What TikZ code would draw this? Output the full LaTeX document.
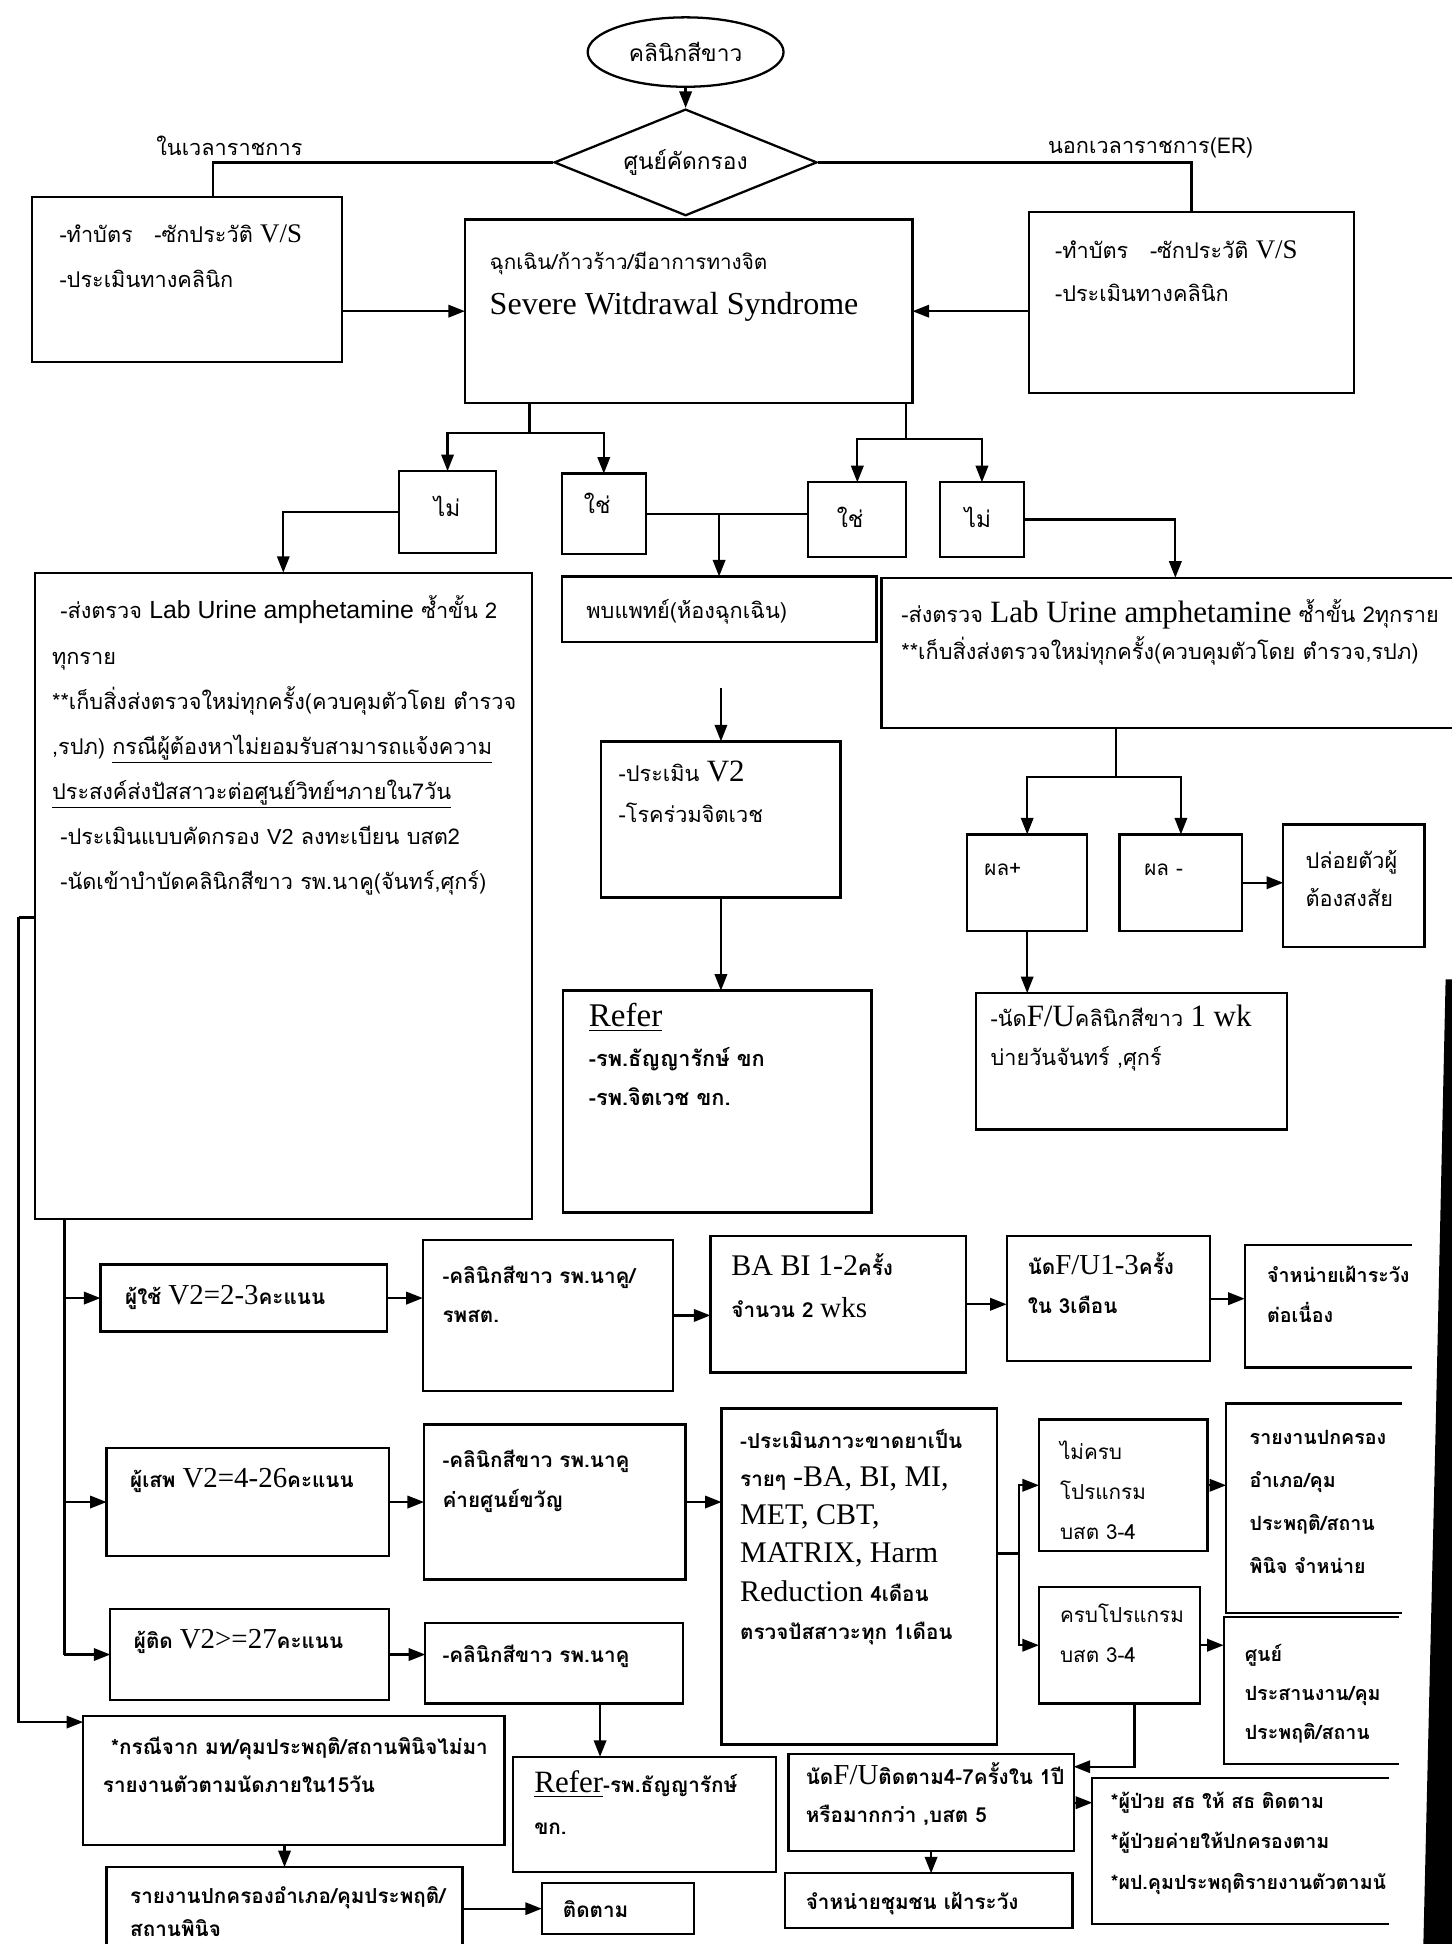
\documentclass[tikz,border=0pt]{standalone}
\usepackage{fontspec}
\setmainfont[Script=Thai]{Loma}
\newfontfamily\tnr{Liberation Serif}
\newfontfamily\ars{Liberation Sans}
\usetikzlibrary{shapes.geometric,arrows.meta}
\newcommand\fsz[2]{\fontsize{#1}{#2}\selectfont}
\newcommand\lat[2]{{\tnr\fontsize{#1}{#1}\selectfont #2}}
% #1 opts, #2 name, #3 x1, #4 y1, #5 x2, #6 y2, #7 left pad, #8 first line centre offset, #9 text
\newcommand\bxn[9][]{%
  \node[bxs,#1] (#2) at (#3,#4) {\parbox[c][\dimexpr 0.6pt*\numexpr #6-#4\relax\relax][t]{\dimexpr 0.6pt*\numexpr #5-#3\relax\relax}{%
  \vspace*{\dimexpr 0.6pt*#8-0.7\baselineskip+0.3em\relax}%
  \hspace*{\dimexpr 0.6pt*#7\relax}\begin{tabular}[t]{@{}l@{}}#9\end{tabular}}};}
\newcommand\opensides[1]{\draw (#1.north east) -- (#1.north west) -- (#1.south west) -- (#1.south east);}
\begin{document}
\begin{tikzpicture}[x=0.6pt,y=-0.6pt,line width=1.1pt,
  bxs/.style={draw,inner sep=0pt,outer sep=0pt,anchor=north west,font=\fsz{10.5}{20}},
  arr/.style={-{Triangle[length=8pt,width=6pt]}},
  lbl/.style={font=\fsz{10.5}{12},inner sep=1pt}]
\useasboundingbox (0,0) rectangle (1171,1568);
\clip (0,0) rectangle (1171,1568);

% ---------- top ----------
\node[ellipse,draw,minimum width=94.8pt,minimum height=33.6pt,inner sep=0pt,font=\fsz{11}{13}] (e1) at (553,42) {คลินิกสีขาว};
\node[diamond,draw,aspect=2.4,minimum width=127.2pt,minimum height=51.6pt,inner sep=0pt,font=\fsz{11}{13}] (d1) at (553,131) {ศูนย์คัดกรอง};
\draw[arr] (e1.south) -- (d1.north);

\bxn[font=\fsz{10.5}{22}]{lb}{26}{159}{276}{292}{22}{31}{-ทำบัตร\quad -ซักประวัติ \lat{13}{V/S}\\-ประเมินทางคลินิก}
\bxn[font=\fsz{10}{22}]{cb}{375}{177}{736}{325}{20}{35}{ฉุกเฉิน/ก้าวร้าว/มีอาการทางจิต\\\lat{15.5}{Severe Witdrawal Syndrome}}
\bxn[font=\fsz{10.5}{21}]{rb}{830}{171}{1092}{317}{21}{32}{-ทำบัตร\quad -ซักประวัติ \lat{13}{V/S}\\-ประเมินทางคลินิก}

\coordinate (cl) at (172,131);
\draw (d1.west) -- (cl) -- (cl |- lb.north);
\draw (d1.east) -| (rb.north);
\node[lbl] (ll) at (185,118) {ในเวลาราชการ};
\node[lbl] (rl) at (928,119) {นอกเวลาราชการ(ER)};

\draw[arr] (lb.east |- cb.west) -- (cb.west);
\draw[arr] (rb.west |- cb.east) -- (cb.east);

% yes / no
\bxn[font=\fsz{11}{20}]{no1}{322}{380}{400}{446}{28}{31}{ไม่}
\bxn[font=\fsz{11}{20}]{yes1}{453}{382}{521}{447}{18}{27}{ใช่}
\bxn[font=\fsz{11}{20}]{yes2}{652}{389}{731}{449}{23}{31}{ใช่}
\bxn[font=\fsz{11}{20}]{no2}{758}{389}{826}{449}{20}{31}{ไม่}

\coordinate (sl) at (427,349);
\draw (cb.south -| sl) -- (sl);
\draw[arr] (sl) -| (no1.north);
\draw[arr] (sl) -| (yes1.north);
\coordinate (sr) at (731,354);
\draw (cb.south -| sr) -- (sr);
\draw[arr] (sr) -| (yes2.north);
\draw[arr] (sr) -| (no2.north);

% ---------- middle ----------
\bxn[font=\fsz{10.5}{21.8}]{bl}{28}{462}{429}{983}{14}{32}{%
\hspace{4pt}-ส่งตรวจ {\ars\fontsize{12}{12}\selectfont Lab Urine amphetamine} ซ้ำขั้น 2\\
ทุกราย\\{}%
**เก็บสิ่งส่งตรวจใหม่ทุกครั้ง(ควบคุมตัวโดย ตำรวจ\\
,รปภ) \underline{กรณีผู้ต้องหาไม่ยอมรับสามารถแจ้งความ}\\
\underline{ประสงค์ส่งปัสสาวะต่อศูนย์วิทย์ฯภายใน7วัน}\\
\hspace{4pt}-ประเมินแบบคัดกรอง {\ars V2} ลงทะเบียน บสต2\\
\hspace{4pt}-นัดเข้าบำบัดคลินิกสีขาว รพ.นาคู(จันทร์,ศุกร์)}

\bxn{pb}{453}{465}{707}{518}{20}{29}{พบแพทย์(ห้องฉุกเฉิน)}
\draw[arr] (no1.west) -| (bl.north);
\draw (yes1.east) -- (yes1.east -| yes2.west);
\draw[arr] (yes1.east -| pb.north) -- (pb.north);

\bxn[draw=none,font=\fsz{10.5}{18}]{lr}{711}{466}{1185}{587}{16}{31}{%
-ส่งตรวจ \lat{15}{Lab Urine amphetamine} ซ้ำขั้น 2ทุกราย\\{}%
**เก็บสิ่งส่งตรวจใหม่ทุกครั้ง(ควบคุมตัวโดย ตำรวจ,รปภ)}
\opensides{lr}
\draw[arr] (no2.east) -| (lr.north);

\bxn{v2}{485}{598}{678}{724}{14}{27}{-ประเมิน \lat{15}{V2}\\-โรคร่วมจิตเวช}
\draw[arr,shorten <=22pt] (pb.south -| v2.north) -- (v2.north);
\bxn[font=\fsz{10.5}{19}\bfseries]{rf}{454}{799}{703}{978}{21}{24}{\lat{16}{\mdseries\underline{Refer}}\\-รพ.ธัญญารักษ์ ขก\\-รพ.จิตเวช ขก.}
\draw[arr] (v2.south) -- (v2.south |- rf.north);

\bxn[font=\fsz{10}{20}]{pp}{780}{673}{877}{751}{14}{28}{ผล+}
\bxn[font=\fsz{10}{20}]{pm}{903}{673}{1002}{751}{20}{28}{ผล -}
\bxn[font=\fsz{10.5}{18.6}]{pr}{1035}{665}{1149}{764}{18}{30}{ปล่อยตัวผู้\\ต้องสงสัย}
\coordinate (sb) at (900,627);
\draw (lr.south -| sb) -- (sb);
\draw[arr] (sb) -| (pp.north);
\draw[arr] (sb) -| (pm.north);
\draw[arr] (pm.east) -- (pm.east -| pr.west);
\bxn[font=\fsz{10.5}{18.6}]{fu1}{787}{801}{1038}{911}{12}{22}{-นัด\lat{15}{F/U}คลินิกสีขาว \lat{15}{1 wk}\\บ่ายวันจันทร์ ,ศุกร์}
\draw[arr] (pp.south) -- (pp.south |- fu1.north);

% ---------- rows ----------
\bxn[font=\fsz{10}{20}\bfseries]{u1}{81}{1020}{312}{1074}{20}{27}{ผู้ใช้ \lat{14}{\mdseries V2=2-3}คะแนน}
\bxn[font=\fsz{10}{19}\bfseries]{c1}{341}{1000}{543}{1122}{16}{30}{-คลินิกสีขาว รพ.นาคู/\\รพสต.}
\bxn[font=\fsz{10}{20}\bfseries]{ba}{573}{997}{779}{1107}{17}{27}{\lat{14.5}{\mdseries BA BI 1-2}ครั้ง\\จำนวน 2 \lat{14}{\mdseries wks}}
\bxn[font=\fsz{10}{19}\bfseries]{nf}{812}{997}{976}{1098}{17}{26}{นัด\lat{14}{\mdseries F/U1-3}ครั้ง\\ใน 3เดือน}
\bxn[draw=none,font=\fsz{9.5}{19}\bfseries]{jd}{1004}{1004}{1139}{1103}{18}{26}{จำหน่ายเฝ้าระวัง\\ต่อเนื่อง}
\opensides{jd}

\bxn[font=\fsz{10}{20}\bfseries]{u2}{86}{1168}{314}{1255}{19}{27}{ผู้เสพ \lat{14}{\mdseries V2=4-26}คะแนน}
\bxn[font=\fsz{10}{19}\bfseries]{c2}{342}{1149}{553}{1274}{15}{30}{-คลินิกสีขาว รพ.นาคู\\ค่ายศูนย์ขวัญ}
\bxn[font=\fsz{10}{18.5}\bfseries]{ev}{582}{1136}{804}{1407}{15}{27}{%
-ประเมินภาวะขาดยาเป็น\\
รายๆ \lat{14.5}{\mdseries -BA, BI, MI,}\\
\lat{14.5}{\mdseries MET, CBT,}\\
\lat{14.5}{\mdseries MATRIX, Harm}\\
\lat{14.5}{\mdseries Reduction} 4เดือน\\
ตรวจปัสสาวะทุก 1เดือน}
\bxn[font=\fsz{10}{19.5}]{nk}{838}{1145}{974}{1251}{17}{27}{ไม่ครบ\\โปรแกรม\\บสต 3-4}
\bxn[font=\fsz{10}{19}]{kp}{838}{1280}{968}{1374}{17}{24}{ครบโปรแกรม\\บสต 3-4}
\bxn[draw=none,font=\fsz{9.5}{20.8}\bfseries]{rp}{989}{1132}{1131}{1301}{19}{28}{รายงานปกครอง\\อำเภอ/คุม\\ประพฤติ/สถาน\\พินิจ จำหน่าย}
\opensides{rp}
\bxn[draw=none,font=\fsz{9.5}{19}\bfseries]{sp}{987}{1304}{1128}{1423}{17}{31}{ศูนย์\\ประสานงาน/คุม\\ประพฤติ/สถาน}
\opensides{sp}

\bxn[font=\fsz{10}{20}\bfseries]{u3}{89}{1298}{314}{1371}{19}{27}{ผู้ติด \lat{14}{\mdseries V2>=27}คะแนน}
\bxn[font=\fsz{10}{19}\bfseries]{c3}{343}{1309}{551}{1374}{14}{27}{-คลินิกสีขาว รพ.นาคู}

\bxn[font=\fsz{10}{18.6}\bfseries]{kc}{67}{1384}{407}{1488}{16}{26}{\hspace{4pt}*กรณีจาก มท/คุมประพฤติ/สถานพินิจไม่มา\\รายงานตัวตามนัดภายใน15วัน}
\bxn[font=\fsz{10}{16.2}\bfseries]{rg}{86}{1506}{373}{1590}{19}{24}{รายงานปกครองอำเภอ/คุมประพฤติ/\\สถานพินิจ}
\bxn[font=\fsz{10}{19}\bfseries]{kt}{437}{1519}{560}{1560}{17}{23}{ติดตาม}
\bxn[font=\fsz{10}{20}\bfseries]{rf2}{414}{1417}{626}{1510}{17}{24}{\lat{15}{\mdseries\underline{Refer}}-รพ.ธัญญารักษ์\\ขก.}
\bxn[font=\fsz{10}{18.6}\bfseries]{nf2}{636}{1415}{866}{1493}{14}{19}{นัด\lat{14}{\mdseries F/U}ติดตาม4-7ครั้งใน 1ปี\\หรือมากกว่า ,บสต 5}
\bxn[draw=none,font=\fsz{9.5}{19.5}\bfseries]{pt}{881}{1434}{1120}{1552}{15}{20}{*ผู้ป่วย สธ ให้ สธ ติดตาม\\{}*ผู้ป่วยค่ายให้ปกครองตาม\\{}*ผป.คุมประพฤติรายงานตัวตามนั}
\opensides{pt}
\bxn[font=\fsz{10}{19}\bfseries]{jc}{633}{1511}{865}{1555}{17}{24}{จำหน่ายชุมชน เฝ้าระวัง}

% ---------- left trunks ----------
\coordinate (ot) at (15,740);
\draw (bl.west |- ot) -- (ot);
\draw[arr] (ot) |- ([yshift=-3pt]kc.north west);
\coordinate (it) at (52,1000);
\draw (bl.south -| it) -- (it |- u3.west);
\draw[arr] (it |- u1.west) -- (u1.west);
\draw[arr] (it |- u2.west) -- (u2.west);
\draw[arr] (it |- u3.west) -- (u3.west);

% ---------- row connectors ----------
\draw[arr] (u1.east) -- (u1.east -| c1.west);
\draw[arr] (c1.east) -- (c1.east -| ba.west);
\draw[arr] (ba.east) -- (ba.east -| nf.west);
\draw[arr] (nf.east) -- (nf.east -| jd.west);
\draw[arr] (u2.east) -- (u2.east -| c2.west);
\draw[arr] (c2.east) -- (c2.east -| ev.west);
\coordinate (es) at (822,1253);
\draw (ev.east |- es) -- (es);
\draw[arr] (es) |- (nk.west);
\draw[arr] (es) |- (kp.west);
\draw[arr] (nk.east) -- (nk.east -| rp.west);
\draw[arr] (kp.east) -- (kp.east -| sp.west);
\draw[arr] (u3.east) -- (u3.east -| c3.west);
\coordinate (cx) at (484,1390);
\draw[arr] (c3.south -| cx) -- (cx |- rf2.north);
\coordinate (kd) at (915,1425);
\draw[arr] (kp.south -| kd) -- (kd) -- (kd -| nf2.east);
\draw[arr] (nf2.east) -- (nf2.east -| pt.west);
\draw[arr] (nf2.south) -- (nf2.south |- jc.north);
\draw[arr] (kc.south -| rg.north) -- (rg.north);
\draw[arr] (rg.east |- kt.west) -- (kt.west);

% scanner edge band
\fill[black] (1166,790) -- (1172,790) -- (1172,1570) -- (1148,1570) -- (1158,1150) -- cycle;
\end{tikzpicture}
\end{document}
